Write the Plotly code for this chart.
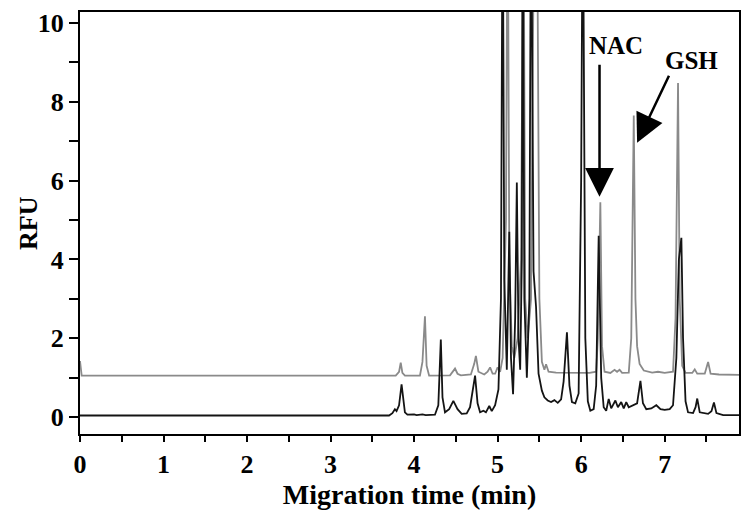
import plotly.graph_objects as go

# Elektropherogramm: zwei Spuren (schwarz = Probe, grau = Probe + Standards)
black_t = [0.00, 3.70, 3.74, 3.77, 3.79, 3.82, 3.85, 3.87, 3.89, 3.92, 4.00, 4.03, 4.10, 4.14,
           4.25, 4.29, 4.32, 4.34, 4.37, 4.42, 4.47, 4.52, 4.57, 4.63, 4.67, 4.73, 4.76, 4.79,
           4.83, 4.86, 4.90, 4.93, 4.97, 5.01, 5.04, 5.06, 5.08, 5.11, 5.14, 5.16, 5.185, 5.21,
           5.23, 5.25, 5.27, 5.29, 5.30, 5.32, 5.35, 5.38, 5.40, 5.43, 5.46, 5.49, 5.53, 5.56,
           5.60, 5.64, 5.68, 5.72, 5.76, 5.79, 5.83, 5.86, 5.89, 5.93, 5.97, 6.00, 6.02, 6.05,
           6.08, 6.11, 6.15, 6.18, 6.21, 6.24, 6.27, 6.30, 6.33, 6.36, 6.41, 6.44, 6.48, 6.51,
           6.54, 6.57, 6.62, 6.67, 6.71, 6.74, 6.78, 6.84, 6.90, 6.95, 7.00, 7.06, 7.10, 7.14,
           7.17, 7.20, 7.22, 7.25, 7.28, 7.34, 7.37, 7.39, 7.42, 7.52, 7.56, 7.59, 7.62, 7.70,
           7.89]
black_rfu = [0.04, 0.04, 0.10, 0.20, 0.15, 0.30, 0.83, 0.40, 0.12, 0.06, 0.07, 0.05, 0.07, 0.05,
             0.06, 0.30, 1.97, 0.50, 0.12, 0.20, 0.41, 0.20, 0.08, 0.09, 0.25, 1.05, 0.35, 0.12,
             0.16, 0.12, 0.28, 0.15, 0.30, 0.70, 3.00, 14.0, 3.50, 1.20, 4.70, 1.50, 0.58, 2.50,
             5.95, 2.00, 1.20, 4.00, 14.0, 3.00, 1.00, 3.00, 14.0, 3.70, 2.80, 1.10, 0.67, 0.50,
             0.42, 0.38, 0.43, 0.36, 0.45, 0.90, 2.15, 0.80, 0.38, 0.35, 0.60, 6.00, 14.0, 2.00,
             0.40, 0.16, 0.20, 0.80, 4.60, 1.00, 0.25, 0.16, 0.46, 0.22, 0.42, 0.25, 0.38, 0.22,
             0.38, 0.25, 0.30, 0.35, 0.92, 0.35, 0.20, 0.22, 0.30, 0.20, 0.18, 0.20, 0.30, 1.50,
             4.00, 4.55, 2.00, 0.40, 0.12, 0.10, 0.25, 0.47, 0.12, 0.08, 0.15, 0.37, 0.10, 0.05,
             0.05]

gray_t = [0.00, 0.02, 3.78, 3.82, 3.84, 3.86, 3.89, 4.07, 4.10, 4.13, 4.15, 4.18, 4.43, 4.47,
          4.49, 4.52, 4.56, 4.68, 4.72, 4.74, 4.77, 4.84, 4.88, 4.91, 4.94, 4.97, 5.00, 5.03,
          5.06, 5.10, 5.12, 5.14, 5.17, 5.20, 5.24, 5.28, 5.31, 5.33, 5.36, 5.40, 5.44, 5.47,
          5.50, 5.53, 5.56, 5.58, 5.61, 5.70, 5.80, 5.90, 6.00, 6.10, 6.18, 6.20, 6.23, 6.25,
          6.28, 6.35, 6.40, 6.43, 6.46, 6.49, 6.57, 6.60, 6.63, 6.65, 6.67, 6.70, 6.75, 6.85,
          6.92, 7.00, 7.10, 7.13, 7.16, 7.18, 7.21, 7.25, 7.33, 7.36, 7.39, 7.48, 7.52, 7.55,
          7.65, 7.89]
gray_rfu = [1.42, 1.05, 1.05, 1.15, 1.38, 1.12, 1.05, 1.05, 1.40, 2.56, 1.30, 1.05, 1.06, 1.18,
            1.23, 1.10, 1.06, 1.08, 1.35, 1.55, 1.15, 1.08, 1.15, 1.26, 1.10, 1.10, 1.26, 1.15,
            1.50, 5.00, 14.0, 4.00, 1.80, 1.50, 2.00, 4.00, 14.0, 3.00, 2.00, 3.00, 14.0, 14.0,
            3.00, 1.40, 1.20, 1.34, 1.15, 1.13, 1.13, 1.12, 1.13, 1.12, 1.15, 2.00, 5.45, 1.80,
            1.15, 1.12, 1.20, 1.15, 1.20, 1.12, 1.13, 2.00, 7.65, 3.00, 1.80, 1.35, 1.18, 1.13,
            1.15, 1.12, 1.15, 2.50, 8.48, 3.00, 1.30, 1.12, 1.12, 1.21, 1.10, 1.10, 1.40, 1.10,
            1.08, 1.07]

# Pfeile: (Spitze, Ende, Textposition)
labels = ['NAC', 'GSH']
tip_t = [6.22, 6.67]
tip_rfu = [5.59, 6.96]
tail_t = [6.22, 7.06]
tail_rfu = [8.98, 8.70]
label_t = [6.42, 7.32]
label_rfu = [9.44, 9.06]

FONT = 'Liberation Serif'

fig = go.Figure()
fig.add_trace(go.Scatter(x=gray_t, y=gray_rfu, mode='lines',
                         line=dict(color='#8a8a8a', width=1.8), showlegend=False))
fig.add_trace(go.Scatter(x=black_t, y=black_rfu, mode='lines',
                         line=dict(color='#141414', width=1.8), showlegend=False))

for i, lab in enumerate(labels):
    fig.add_annotation(x=tip_t[i], y=tip_rfu[i], ax=tail_t[i], ay=tail_rfu[i],
                       axref='x', ayref='y', text='', showarrow=True,
                       arrowhead=2, arrowsize=2.3, arrowwidth=2.5, arrowcolor='black')
    fig.add_annotation(x=label_t[i], y=label_rfu[i], text=lab, showarrow=False,
                       font=dict(family=FONT, size=25, color='black', weight='bold'))

# y-Titel als Annotation, damit er dicht an den Zahlen sitzt
fig.add_annotation(xref='paper', yref='paper', x=-0.079, y=0.5, text='RFU',
                   textangle=-90, showarrow=False, xanchor='center', yanchor='middle',
                   font=dict(family=FONT, size=26, color='black', weight='bold'))

# Seite hat 8px body-Rand -> Figur entsprechend kleiner
fig.update_layout(
    width=742, height=514,
    margin=dict(l=72, r=11, t=4, b=88),
    paper_bgcolor='white', plot_bgcolor='white',
    font=dict(family=FONT, size=25, color='black', weight='bold'),
)
fig.update_xaxes(
    range=[0, 7.89], dtick=1, tick0=0, ticks='outside', ticklen=6, tickwidth=2,
    tickcolor='black', showgrid=False, zeroline=False, automargin=False,
    showline=True, linecolor='black', linewidth=2, mirror=True,
    minor=dict(dtick=0.5, ticks='outside', ticklen=6, tickwidth=2, tickcolor='black'),
    tickfont=dict(family=FONT, size=26, weight='bold'),
    title=dict(text='Migration time (min)', standoff=4,
               font=dict(family=FONT, size=28, weight='bold')),
)
fig.update_yaxes(
    range=[-0.43, 10.28], dtick=2, tick0=0, ticks='outside', ticklen=9, tickwidth=2,
    tickcolor='black', showgrid=False, zeroline=False, automargin=False,
    showline=True, linecolor='black', linewidth=2, mirror=True,
    minor=dict(dtick=1, ticks='outside', ticklen=9, tickwidth=2, tickcolor='black'),
    tickfont=dict(family=FONT, size=26, weight='bold'),
)

fig.write_html('out.html')
